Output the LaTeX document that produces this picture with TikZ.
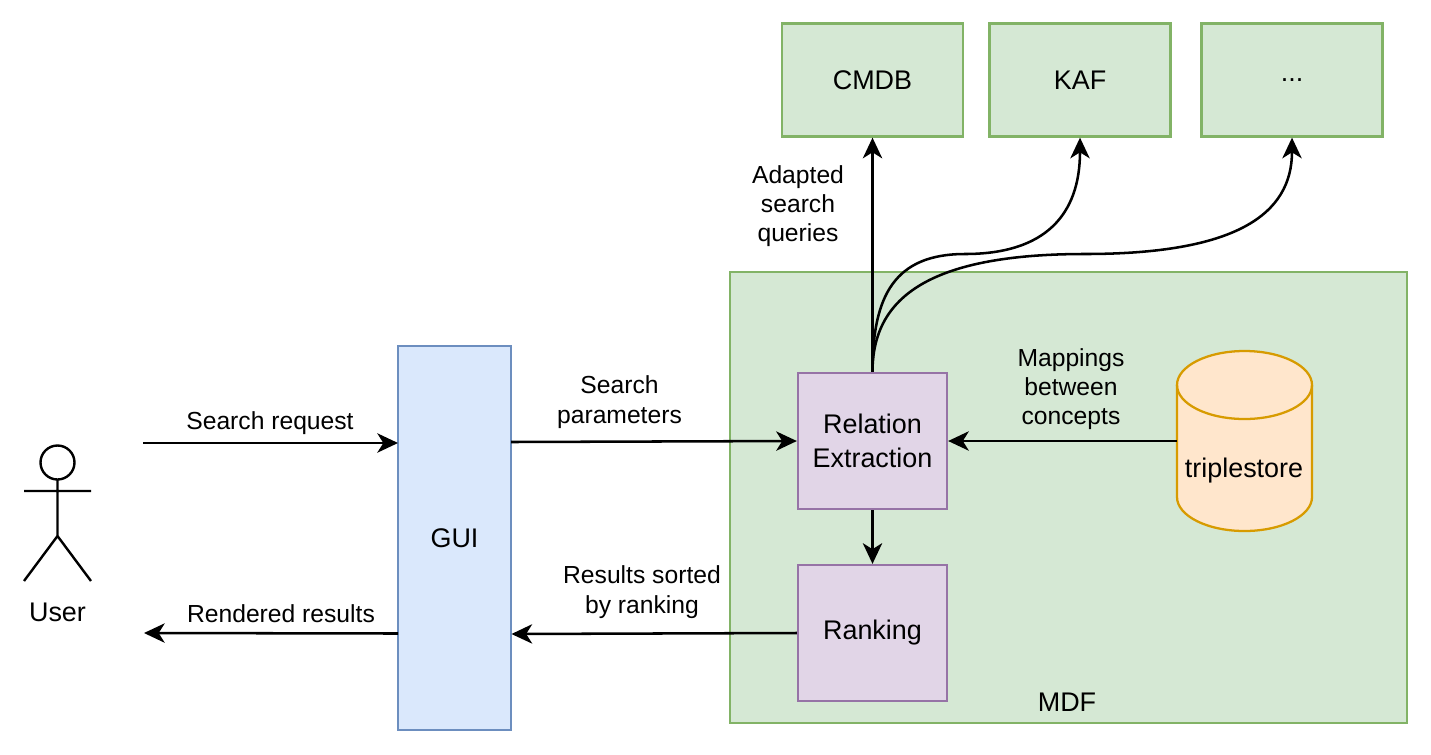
\documentclass[tikz,border=0pt]{standalone}
\usepackage{fontspec}
\setmainfont{Liberation Sans}
\usetikzlibrary{arrows.meta,shapes.geometric}
\definecolor{gfill}{HTML}{D5E8D4}\definecolor{gline}{HTML}{82B366}
\definecolor{bfill}{HTML}{DAE8FC}\definecolor{bline}{HTML}{6C8EBF}
\definecolor{pfill}{HTML}{E1D5E7}\definecolor{pline}{HTML}{9673A6}
\definecolor{ofill}{HTML}{FFE6CC}\definecolor{oline}{HTML}{D79B00}
\tikzset{x=0.75pt,y=-0.75pt,
 lbl/.style={font=\fontsize{20.2}{25.5}\selectfont,align=center,inner sep=0pt},
 box/.style={draw,line width=1.7pt,lbl,anchor=center},
 greenbox/.style={box,draw=gline,fill=gfill},
 purplebox/.style={box,draw=pline,fill=pfill},
 conn/.style={line width=1.9pt,-{Stealth[length=15.5pt,width=14.5pt,inset=4.5pt]}},
 txt/.style={font=\fontsize{18.5}{22}\selectfont,align=center,inner sep=0pt}}
\begin{document}
\begin{tikzpicture}
\useasboundingbox (0,0) rectangle (1431,754);
% containers and components
\node[greenbox,minimum width=677*0.75pt,minimum height=451*0.75pt] (mdf) at (1068.5,497.5) {};
\node[lbl] (mdflabel) at (1067,702) {MDF};
\node[greenbox,minimum width=181*0.75pt,minimum height=113*0.75pt] (cmdb) at (872.5,80) {CMDB};
\node[greenbox,minimum width=181*0.75pt,minimum height=113*0.75pt] (kaf) at (1080,80) {KAF};
\node[greenbox,minimum width=181*0.75pt,minimum height=113*0.75pt] (more) at (1292,80) {\raisebox{-2pt}{...}};
\node[box,draw=bline,fill=bfill,minimum width=113*0.75pt,minimum height=384*0.75pt] (gui) at (454.5,538) {GUI};
\node[purplebox,minimum width=149*0.75pt,minimum height=136*0.75pt] (rel) at (872.5,441) {Relation\\Extraction};
\node[purplebox,minimum width=149*0.75pt,minimum height=136*0.75pt] (rank) at (872.5,633) {\raisebox{-0.75pt}{Ranking}};
% triplestore cylinder
\coordinate (tsw) at (1177,441);
\path[draw=oline,fill=ofill,line width=1.7pt] (1177,385) arc[x radius=67.5,y radius=34,start angle=180,end angle=360] -- (1312,497) arc[x radius=67.5,y radius=34,start angle=0,end angle=180] -- cycle;
\draw[oline,line width=1.7pt] (1177,385) arc[x radius=67.5,y radius=34,start angle=180,end angle=0];
\node[lbl] (ts) at (1244,471) {triplestore};
% user figure
\draw[line width=1.8pt] (57.5,462.5) circle[radius=17];
\draw[line width=1.8pt] (57.5,480) -- (57.5,536) (24,491) -- (91,491) (24,581) -- (57.5,536) -- (91,581);
\node[lbl] (user) at (57.5,612) {User};
\coordinate (uin) at (143,443);
\coordinate (uout) at (144,633);
\coordinate (guiin) at (398,443);
\coordinate (guiout) at (398,633.5);
\coordinate (guir1) at (511,442);
\coordinate (guir2) at (511.5,634);
% connectors
\draw[conn] (uin) -- (guiin);
\draw[conn] (guiout) -- (uout);
\draw[conn] (guir1) -- (rel.west);
\draw[conn] (rank.west) -- (guir2);
\draw[conn] (tsw) -- (rel.east);
\draw[conn] (rel.south) -- (rank.north);
\draw[conn] (rel.north) -- (cmdb.south);
\draw[conn] (rel.north) .. controls (872.5,295) and (895,254) .. (965,254) .. controls (1045,254) and (1080,215) .. (kaf.south);
\draw[conn] (rel.north) .. controls (872.5,300) and (925,254) .. (1085,254) .. controls (1235,254) and (1292,215) .. (more.south);
% labels
\node[txt] (t1) at (270,423) {Search request};
\node[txt] (t2) at (281,614) {Rendered results};
\node[txt] (t3) at (619.5,402) {Search\\parameters};
\node[txt] (t4) at (642,592) {Results sorted\\by ranking};
\node[txt] (t5) at (1071,389) {Mappings\\between\\concepts};
\node[txt] (t6) at (798,206) {Adapted\\search\\queries};
\end{tikzpicture}
\end{document}
